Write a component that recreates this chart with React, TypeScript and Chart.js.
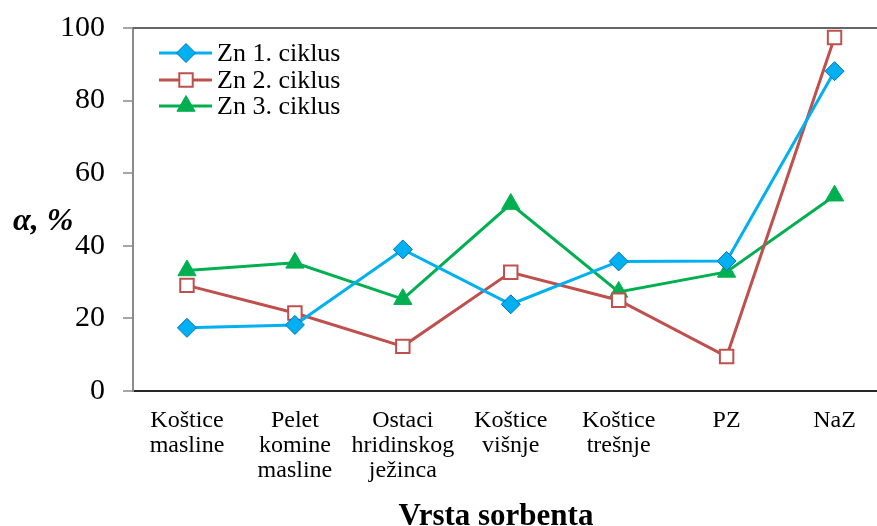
import React, { useEffect, useRef } from "react";
import { Chart, registerables } from "chart.js";
import { drawPoint } from "chart.js/helpers";

Chart.register(...registerables);

const categories: string[][] = [
  ["Koštice", "masline"],
  ["Pelet", "komine", "masline"],
  ["Ostaci", "hridinskog", "ježinca"],
  ["Koštice", "višnje"],
  ["Koštice", "trešnje"],
  ["PZ"],
  ["NaZ"],
];
const seriesNames = ["Zn 1. ciklus", "Zn 2. ciklus", "Zn 3. ciklus"];
const zn1 = [17.4, 18.2, 39.0, 23.9, 35.7, 35.8, 88.1];
const zn2 = [29.1, 21.5, 12.3, 32.7, 25.0, 9.5, 97.4];
const zn3 = [33.2, 35.3, 25.3, 51.5, 27.3, 32.8, 53.8];
const yTicks = [0, 20, 40, 60, 80, 100];

const SERIF = "'Liberation Serif', 'Times New Roman', serif";

const decorPlugin = {
  id: "decor",
  afterDraw(chart: any) {
    const ctx = chart.ctx;
    const area = chart.chartArea;
    ctx.save();
    // top border of plot area
    ctx.strokeStyle = "#666666";
    ctx.lineWidth = 2;
    ctx.beginPath();
    ctx.moveTo(area.left, area.top);
    ctx.lineTo(area.right, area.top);
    ctx.stroke();

    // y-axis title (horizontal)
    ctx.fillStyle = "#000";
    ctx.font = `italic bold 32px ${SERIF}`;
    ctx.textAlign = "left";
    ctx.textBaseline = "middle";
    ctx.fillText("α, %", 13, 222);

    // x-axis title
    ctx.font = `bold 31px ${SERIF}`;
    ctx.textAlign = "center";
    ctx.textBaseline = "alphabetic";
    ctx.fillText("Vrsta sorbenta", 496, 525);

    // legend
    const rowsY = [53, 80, 106];
    chart.data.datasets.forEach((ds: any, i: number) => {
      const y = rowsY[i];
      ctx.strokeStyle = ds.borderColor;
      ctx.lineWidth = ds.borderWidth;
      ctx.beginPath();
      ctx.moveTo(159, y);
      ctx.lineTo(212, y);
      ctx.stroke();
      ctx.fillStyle = ds.pointBackgroundColor;
      ctx.strokeStyle = ds.pointBorderColor;
      ctx.lineWidth = ds.pointBorderWidth;
      drawPoint(ctx, { pointStyle: ds.pointStyle, radius: ds.pointRadius, rotation: 0, borderWidth: ds.pointBorderWidth }, 186, y);
      ctx.fillStyle = "#000";
      ctx.font = `26px ${SERIF}`;
      ctx.textAlign = "left";
      ctx.textBaseline = "middle";
      ctx.fillText(ds.label, 217, y + 1);
    });
    ctx.restore();
  },
};

export default function App() {
  const ref = useRef<HTMLCanvasElement | null>(null);
  useEffect(() => {
    if (!ref.current) return;
    const chart = new Chart(ref.current, {
      type: "line",
      data: {
        labels: categories,
        datasets: [
          {
            label: seriesNames[0],
            data: zn1,
            borderColor: "#00B0F0",
            borderWidth: 3,
            pointStyle: "rectRot",
            pointRadius: 9.5,
            pointBackgroundColor: "#00B0F0",
            pointBorderColor: "#0070C0",
            pointBorderWidth: 1,
            tension: 0,
          },
          {
            label: seriesNames[1],
            data: zn2,
            borderColor: "#C0504D",
            borderWidth: 3,
            pointStyle: "rect",
            pointRadius: 9.5,
            pointBackgroundColor: "#FFFFFF",
            pointBorderColor: "#C0504D",
            pointBorderWidth: 2,
            tension: 0,
          },
          {
            label: seriesNames[2],
            data: zn3,
            borderColor: "#00B050",
            borderWidth: 3,
            pointStyle: "triangle",
            pointRadius: 10.5,
            pointBackgroundColor: "#00B050",
            pointBorderColor: "#00B050",
            pointBorderWidth: 1,
            tension: 0,
          },
        ] as any,
      },
      options: {
        animation: false,
        responsive: false,
        devicePixelRatio: 1,
        layout: { padding: { top: 28, right: 10, left: 0, bottom: 0 } },
        plugins: { legend: { display: false }, tooltip: { enabled: false } },
        scales: {
          x: {
            type: "category",
            offset: true,
            grid: { display: false, drawTicks: false },
            border: { display: true, color: "#262626", width: 2 },
            ticks: {
              color: "#000",
              padding: 17,
              maxRotation: 0,
              autoSkip: false,
              font: { family: SERIF, size: 24, lineHeight: 1.05 },
            },
            afterFit: (s: any) => {
              s.height = 135;
              s.paddingLeft = 0;
              s.paddingRight = 0;
            },
          },
          y: {
            min: 0,
            max: 100,
            afterBuildTicks: (s: any) => {
              s.ticks = yTicks.map((v) => ({ value: v }));
            },
            grid: {
              display: true,
              drawOnChartArea: false,
              drawTicks: true,
              tickLength: 10,
              color: "#a6a6a6",
              lineWidth: 2,
            },
            border: { display: true, color: "#8c8c8c", width: 2 },
            ticks: {
              color: "#000",
              padding: 18,
              font: { family: SERIF, size: 30 },
            },
            afterFit: (s: any) => {
              s.width = 133;
              s.paddingTop = 0;
              s.paddingBottom = 0;
            },
          },
        },
      },
      plugins: [decorPlugin],
    });
    return () => chart.destroy();
  }, []);
  return (
    <div style={{ position: "absolute", left: 0, top: 0, width: 877, height: 526, overflow: "hidden", background: "#fff" }}>
      <canvas ref={ref} width={900} height={526} style={{ display: "block", width: 900, height: 526 }} />
    </div>
  );
}
